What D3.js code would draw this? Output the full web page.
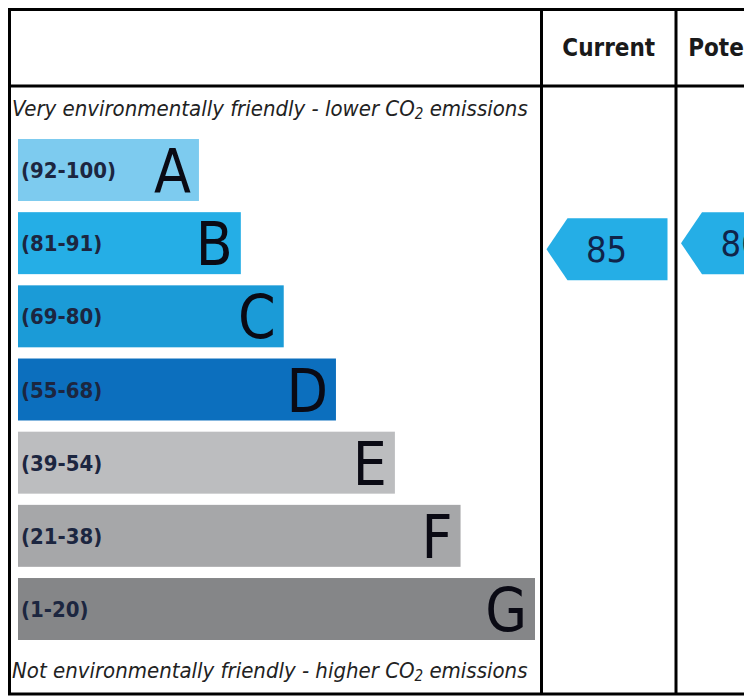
<!DOCTYPE html>
<html>
<head>
<meta charset="utf-8">
<script src="https://cdn.jsdelivr.net/npm/d3@7"></script>
<style>
  body { margin: 0; background: #fff; }
  svg { display: block; }
</style>
</head>
<body>
<div id="chart"></div>
<script>
// rating bands, top to bottom
let ratings = ["A", "B", "C", "D", "E", "F", "G"]
let ranges = ["(92-100)", "(81-91)", "(69-80)", "(55-68)", "(39-54)", "(21-38)", "(1-20)"]
let rangeMax = [100, 91, 80, 68, 54, 38, 20]
let rangeMin = [92, 81, 69, 55, 39, 21, 1]
// bar length as percent of the longest bar
let barLength = [35, 43.1, 51.4, 61.5, 72.9, 85.6, 100]
let barColors = ["#7dcbef", "#25aee6", "#1b9bd7", "#0c6fbe", "#bcbdbf", "#a6a7a9", "#858688"]

let columns = ["Current", "Potential"]
let scores = [85, 86]

let svg = d3.select("#chart").append("svg")
	.attr("width", 744)
	.attr("height", 700)

let font = "'DejaVu Sans Condensed', 'DejaVu Sans', sans-serif"

// table frame
let tableLeft = 9.5, tableTop = 9.5, tableBottom = 694, headerBottom = 86
let colEdges = [541.5, 676, 811]

//scales
let yscale = d3.scaleBand()
	.domain(ratings)
	.range([139, 640])
	.paddingInner(0.153)

let xscale = d3.scaleLinear()
	.domain([0, 100])
	.range([0, 517])

let bars = ratings.map((r, i) => ({
	rating: r,
	range: ranges[i],
	max: rangeMax[i],
	min: rangeMin[i],
	len: barLength[i],
	color: barColors[i]
}))

//Add the bars
let barG = svg.append("g").attr("transform", "translate(18, 0)")

barG.selectAll("rect")
	.data(bars)
	.enter()
	.append("rect")
	.attr("x", 0)
	.attr("y", d => yscale(d.rating))
	.attr("width", d => xscale(d.len))
	.attr("height", yscale.bandwidth())
	.attr("fill", d => d.color)

barG.selectAll(".range")
	.data(bars)
	.enter()
	.append("text")
	.attr("class", "range")
	.attr("x", 3)
	.attr("y", d => yscale(d.rating) + yscale.bandwidth() / 2 + 8)
	.attr("font-family", font)
	.attr("font-weight", "bold")
	.attr("font-size", 22)
	.attr("fill", "#1c2640")
	.text(d => d.range)

barG.selectAll(".letter")
	.data(bars)
	.enter()
	.append("text")
	.attr("class", "letter")
	.attr("x", d => xscale(d.len) - 8)
	.attr("y", d => yscale(d.rating) + yscale.bandwidth() / 2 + 22)
	.attr("text-anchor", "end")
	.attr("font-family", font)
	.attr("font-size", 60)
	.attr("fill", "#0a0a14")
	.text(d => d.rating)

//Add the top / bottom captions
svg.append("text")
	.attr("x", 12)
	.attr("y", 116)
	.attr("font-family", font)
	.attr("font-style", "italic")
	.attr("font-size", 22)
	.attr("fill", "#222")
	.html("Very environmentally friendly - lower CO<tspan font-size='15' dy='3'>2</tspan><tspan dy='-3'> emissions</tspan>")

svg.append("text")
	.attr("x", 12)
	.attr("y", 678)
	.attr("font-family", font)
	.attr("font-style", "italic")
	.attr("font-size", 22)
	.attr("fill", "#222")
	.html("Not environmentally friendly - higher CO<tspan font-size='15' dy='3'>2</tspan><tspan dy='-3'> emissions</tspan>")

//Add the score arrows
let arrowW = 121, tipW = 21, arrowH = yscale.bandwidth()

function arrowY(score) {
	let b = bars.find(d => score >= d.min && score <= d.max)
	let local = d3.scaleLinear()
		.domain([b.max, b.min])
		.range([yscale(b.rating), yscale(b.rating) + yscale.bandwidth()])
	return local(score)
}

let arrows = scores.map((s, i) => ({score: s, left: colEdges[i] + 5, cy: arrowY(s)}))

let arrowG = svg.selectAll(".arrow")
	.data(arrows)
	.enter()
	.append("g")
	.attr("class", "arrow")
	.attr("transform", d => "translate(" + d.left + "," + d.cy + ")")

arrowG.append("path")
	.attr("d", "M0,0 L" + tipW + "," + (-arrowH / 2) + " L" + arrowW + "," + (-arrowH / 2) +
		" L" + arrowW + "," + (arrowH / 2) + " L" + tipW + "," + (arrowH / 2) + " Z")
	.attr("fill", barColors[1])

arrowG.append("text")
	.attr("x", 60)
	.attr("y", 13)
	.attr("text-anchor", "middle")
	.attr("font-family", font)
	.attr("font-size", 36)
	.attr("fill", "#10244a")
	.text(d => d.score)

//Add the header text
svg.selectAll(".head")
	.data(columns)
	.enter()
	.append("text")
	.attr("class", "head")
	.attr("x", (d, i) => (colEdges[i] + colEdges[i + 1]) / 2)
	.attr("y", 56)
	.attr("text-anchor", "middle")
	.attr("font-family", font)
	.attr("font-weight", "bold")
	.attr("font-size", 24)
	.attr("fill", "#1a1a1a")
	.text(d => d)

//Add the table lines
let lines = svg.append("g")
	.attr("stroke", "#000")
	.attr("stroke-width", 3)
	.attr("fill", "none")

lines.append("rect")
	.attr("x", tableLeft)
	.attr("y", tableTop)
	.attr("width", colEdges[2] - tableLeft)
	.attr("height", tableBottom - tableTop)

lines.append("line")
	.attr("x1", tableLeft).attr("x2", colEdges[2])
	.attr("y1", headerBottom).attr("y2", headerBottom)

lines.selectAll(".col")
	.data(colEdges.slice(0, 2))
	.enter()
	.append("line")
	.attr("class", "col")
	.attr("x1", d => d).attr("x2", d => d)
	.attr("y1", tableTop).attr("y2", tableBottom)
</script>
</body>
</html>
